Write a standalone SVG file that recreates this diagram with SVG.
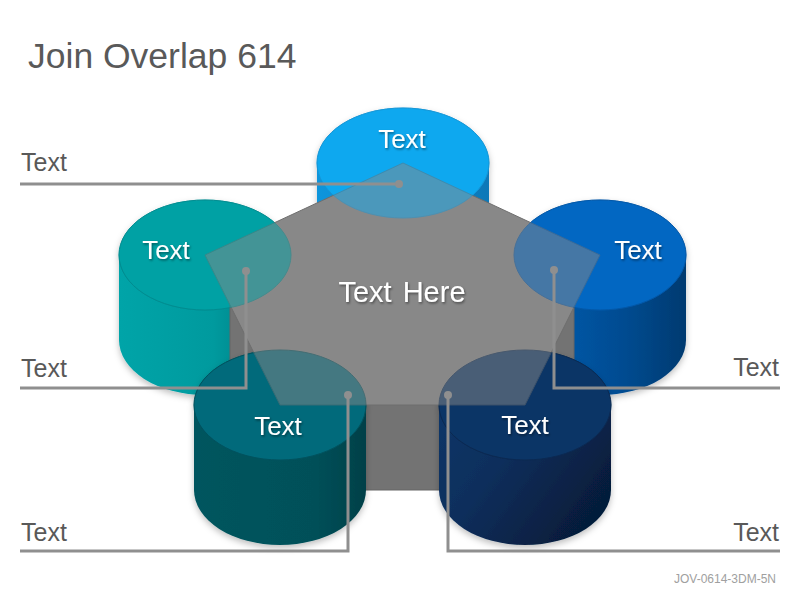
<svg xmlns="http://www.w3.org/2000/svg" xmlns:xlink="http://www.w3.org/1999/xlink" width="800" height="600" viewBox="0 0 800 600">
<defs>
<style>
.lbl{font-family:"Liberation Sans",Arial,sans-serif;font-size:25px;fill:#595959}
.ct{font-family:"Liberation Sans",Arial,sans-serif;font-size:26px;fill:#ffffff;text-anchor:middle;filter:url(#ts)}
.conn{fill:none;stroke:#8f8f8f;stroke-width:3}
.dot{fill:#8f8f8f}
.ov{opacity:0.5}
</style>
<filter id="ts" x="-20%" y="-30%" width="140%" height="160%"><feDropShadow dx="1" dy="1.5" stdDeviation="1" flood-color="#000" flood-opacity="0.45"/></filter>
<filter id="sh" x="-10%" y="-10%" width="120%" height="130%"><feDropShadow dx="0" dy="3" stdDeviation="3" flood-color="#000" flood-opacity="0.25"/></filter>
<linearGradient id="gT" x1="0" y1="0" x2="1" y2="0"><stop offset="0" stop-color="#0b95dc"/><stop offset="1" stop-color="#0878b8"/></linearGradient>
<linearGradient id="gL" x1="0" y1="0" x2="1" y2="0"><stop offset="0" stop-color="#00a4a8"/><stop offset="0.55" stop-color="#009a9e"/><stop offset="1" stop-color="#006e74"/></linearGradient>
<linearGradient id="gR" x1="0" y1="0" x2="1" y2="0"><stop offset="0" stop-color="#0660b8"/><stop offset="0.65" stop-color="#054b90"/><stop offset="1" stop-color="#043a70"/></linearGradient>
<linearGradient id="gBL" x1="0" y1="0" x2="1" y2="0"><stop offset="0" stop-color="#04555e"/><stop offset="0.7" stop-color="#035059"/><stop offset="1" stop-color="#024048"/></linearGradient>
<linearGradient id="gBR" x1="0" y1="0" x2="1" y2="0.6"><stop offset="0" stop-color="#0d3669"/><stop offset="0.45" stop-color="#0b2e5b"/><stop offset="1" stop-color="#061c3a"/></linearGradient>
<ellipse id="eT" cx="403" cy="163" rx="86" ry="55"/>
<ellipse id="eL" cx="205" cy="255" rx="86" ry="55"/>
<ellipse id="eR" cx="600" cy="255" rx="86" ry="55"/>
<ellipse id="eBL" cx="280" cy="405" rx="86" ry="55"/>
<ellipse id="eBR" cx="525" cy="405" rx="86" ry="55"/>
</defs>
<rect width="800" height="600" fill="#ffffff"/>
<text x="28" y="68" style="font-family:'Liberation Sans',Arial,sans-serif;font-size:35.5px;fill:#595959">Join Overlap 614</text>

<g id="cyl-top" filter="url(#sh)">
<path d="M317,163 L317,248 A86,55 0 0 0 489,248 L489,163 Z" fill="url(#gT)"/>
<use xlink:href="#eT" fill="#0fa8ef" stroke="#1596d6" stroke-width="1"/>
</g>
<g id="cyl-left" filter="url(#sh)">
<path d="M119,255 L119,340 A86,55 0 0 0 291,340 L291,255 Z" fill="url(#gL)"/>
<use xlink:href="#eL" fill="#01a1a4" stroke="#038c90" stroke-width="1"/>
</g>
<g id="cyl-right" filter="url(#sh)">
<path d="M514,255 L514,340 A86,55 0 0 0 686,340 L686,255 Z" fill="url(#gR)"/>
<use xlink:href="#eR" fill="#0567c2" stroke="#0558a8" stroke-width="1"/>
</g>

<g id="prism-side">
<rect x="230" y="300" width="344" height="190" fill="#737373" stroke="#666666" stroke-width="1"/>
</g>

<g id="cyl-bottom-left" filter="url(#sh)">
<path d="M194,405 L194,490 A86,55 0 0 0 366,490 L366,405 Z" fill="url(#gBL)"/>
<use xlink:href="#eBL" fill="#036a7b" stroke="#02525e" stroke-width="1"/>
</g>
<g id="cyl-bottom-right" filter="url(#sh)">
<path d="M439,405 L439,490 A86,55 0 0 0 611,490 L611,405 Z" fill="url(#gBR)"/>
<use xlink:href="#eBR" fill="#0b3566" stroke="#092a52" stroke-width="1"/>
</g>

<g id="pentagon">
<polygon points="403,163 600,255 525,405 280,405 205,255" fill="#888888" stroke="#6e6e6e" stroke-width="1"/>
</g>

<g id="overlap">
<use xlink:href="#eT" class="ov" fill="#0fa8ef" stroke="#1596d6"/>
<use xlink:href="#eL" class="ov" fill="#01a1a4" stroke="#038c90"/>
<use xlink:href="#eR" class="ov" fill="#0567c2" stroke="#0558a8"/>
<use xlink:href="#eBL" class="ov" fill="#036a7b" stroke="#02525e"/>
<use xlink:href="#eBR" class="ov" fill="#0b3566" stroke="#092a52"/>
</g>

<g id="node-texts">
<text class="ct" x="402" y="148">Text</text>
<text class="ct" x="166" y="259">Text</text>
<text class="ct" x="638" y="259">Text</text>
<text class="ct" x="278" y="435">Text</text>
<text class="ct" x="525" y="434">Text</text>
<text class="ct" x="402" y="302" style="font-size:29px;word-spacing:3px">Text Here</text>
</g>

<g id="connectors">
<polyline class="conn" points="20,184 399,184"/>
<polyline class="conn" points="20,388 246,388 246,271"/>
<polyline class="conn" points="20,551 348,551 348,395"/>
<polyline class="conn" points="780,388 554,388 554,270"/>
<polyline class="conn" points="780,551 448,551 448,395"/>
<circle class="dot" cx="399" cy="184" r="4"/>
<circle class="dot" cx="246" cy="271" r="4"/>
<circle class="dot" cx="348" cy="395" r="4"/>
<circle class="dot" cx="554" cy="270" r="4"/>
<circle class="dot" cx="448" cy="395" r="4"/>
</g>

<g id="labels">
<text class="lbl" x="21" y="171">Text</text>
<text class="lbl" x="21" y="377">Text</text>
<text class="lbl" x="21" y="541">Text</text>
<text class="lbl" x="779" y="376" text-anchor="end">Text</text>
<text class="lbl" x="779" y="541" text-anchor="end">Text</text>
</g>
<text x="776" y="583" text-anchor="end" style="font-family:'Liberation Sans',Arial,sans-serif;font-size:12px;fill:#a0a0a0">JOV-0614-3DM-5N</text>
</svg>
